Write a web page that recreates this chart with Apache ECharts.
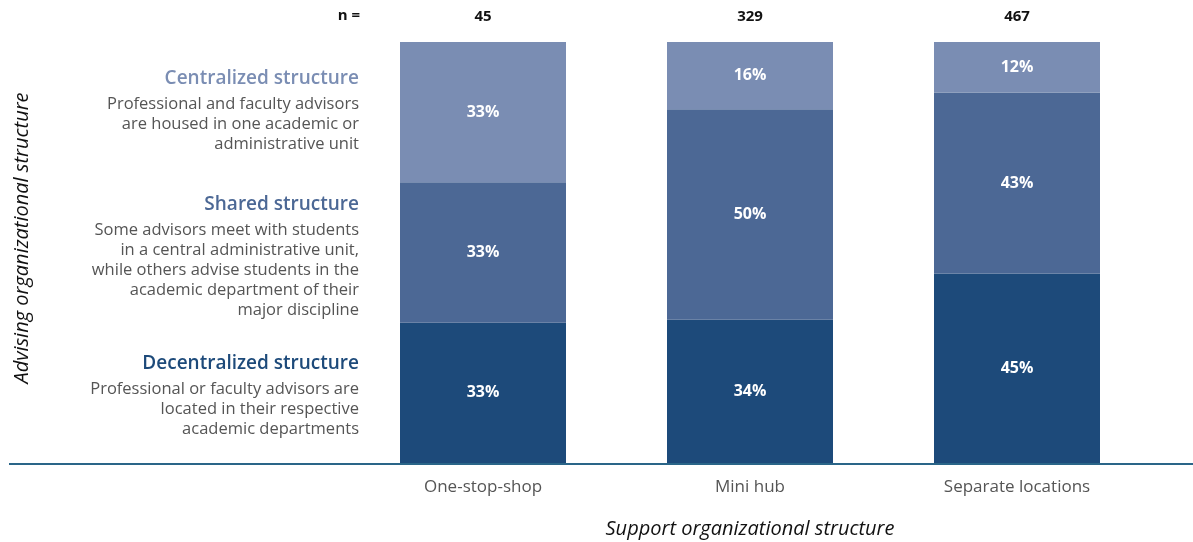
<!DOCTYPE html>
<html>
<head>
<meta charset="utf-8">
<style>
  html, body { margin: 0; padding: 0; background: #ffffff; }
  #chart { width: 1193px; height: 542px; }
</style>
<script src="https://cdn.jsdelivr.net/npm/echarts@6/dist/echarts.min.js"></script>
</head>
<body>
<div id="chart"></div>
<script>
// Support structures (x categories) and respondents per group
const categories = ['One-stop-shop', 'Mini hub', 'Separate locations'];
const nValues = ['45', '329', '467'];

// Advising structure shares (%) per support structure
const decentralized = [33, 34, 45];
const shared = [33, 50, 43];
const centralized = [33, 16, 12];

const seriesNames = ['Decentralized structure', 'Shared structure', 'Centralized structure'];
const seriesDescriptions = [
  'Professional or faculty advisors are\nlocated in their respective\nacademic departments',
  'Some advisors meet with students\nin a central administrative unit,\nwhile others advise students in the\nacademic department of their\nmajor discipline',
  'Professional and faculty advisors\nare housed in one academic or\nadministrative unit'
];

const colors = ['#1d4a7a', '#4c6895', '#7a8db3'];
const FONT = '"Open Sans", "Noto Sans", sans-serif';

const seriesValues = [decentralized, shared, centralized];
// each column is shown as a 100% stack
const totals = categories.map((_, i) => seriesValues.reduce((s, arr) => s + arr[i], 0));

const chart = echarts.init(document.getElementById('chart'), null, { renderer: 'canvas' });

const series = seriesValues.map((vals, k) => ({
  name: seriesNames[k],
  type: 'bar',
  stack: 'total',
  barWidth: 166,
  itemStyle: { color: colors[k] },
  data: vals.map((v, i) => ({ value: v / totals[i] * 100, raw: v })),
  label: {
    show: true,
    position: 'inside',
    color: '#ffffff',
    fontFamily: FONT,
    fontWeight: 'bold',
    fontSize: 16,
    formatter: p => p.data.raw + '%'
  }
}));

// side descriptions of the advising structures (top to bottom)
const sideBlocks = [
  { k: 2, y: 77 },
  { k: 1, y: 203 },
  { k: 0, y: 362 }
];
const graphics = [];
sideBlocks.forEach(b => {
  graphics.push({
    type: 'text', right: 1193 - 359, top: b.y - 8,
    style: {
      text: seriesNames[b.k], fill: colors[b.k],
      font: '600 19px ' + FONT, textAlign: 'right'
    }
  });
  graphics.push({
    type: 'text', right: 1193 - 359, top: b.y + 17,
    style: {
      text: seriesDescriptions[b.k], fill: '#555555',
      font: '16.5px ' + FONT, lineHeight: 20, textAlign: 'right'
    }
  });
});
graphics.push({
  type: 'text', right: 1193 - 360, top: 8,
  style: { text: 'n =', fill: '#111111', font: 'bold 15px ' + FONT, textAlign: 'right' }
});
// vertical title for the advising structures
graphics.push({
  type: 'text', x: 22, y: 238, rotation: Math.PI / 2,
  style: {
    text: 'Advising organizational structure', fill: '#111111',
    font: 'italic 20px ' + FONT, align: 'center', verticalAlign: 'middle'
  }
});
// baseline rule spanning the full width
graphics.push({
  type: 'line', shape: { x1: 9, y1: 464, x2: 1193, y2: 464 },
  style: { stroke: '#2a6588', lineWidth: 2 }
});

chart.setOption({
  animation: false,
  grid: { left: 349.5, right: 42.5, top: 42, bottom: 79, outerBoundsMode: 'none' },
  xAxis: [
    {
      type: 'category',
      data: categories,
      axisLine: { show: false },
      axisTick: { show: false },
      axisLabel: { color: '#555555', fontFamily: FONT, fontSize: 17, margin: 16 },
      name: 'Support organizational structure',
      nameLocation: 'middle',
      nameGap: 56,
      nameTextStyle: { color: '#111111', fontFamily: FONT, fontStyle: 'italic', fontSize: 20 }
    },
    {
      type: 'category',
      position: 'top',
      data: nValues,
      axisLine: { show: false },
      axisTick: { show: false },
      axisLabel: { color: '#111111', fontFamily: FONT, fontWeight: 'bold', fontSize: 15, margin: 18 }
    }
  ],
  yAxis: {
    type: 'value',
    min: 0,
    max: 100,
    axisLine: { show: false },
    axisTick: { show: false },
    axisLabel: { show: false },
    splitLine: { show: false }
  },
  series: series,
  graphic: graphics
});
</script>
</body>
</html>
